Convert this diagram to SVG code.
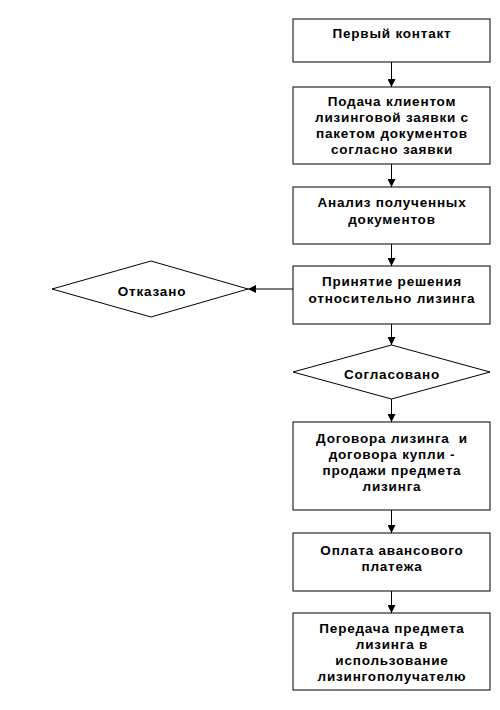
<svg xmlns="http://www.w3.org/2000/svg" width="500" height="710" viewBox="0 0 500 710">
<defs>
<style>
.box{fill:#fff;stroke:#000;stroke-width:1}
.t{font-family:"Liberation Sans",Arial,sans-serif;font-size:13.5px;font-weight:bold;fill:#000;text-anchor:middle;letter-spacing:0.8px}
.c{stroke:#000;stroke-width:1;fill:none;marker-end:url(#ah)}
</style>
<marker id="ah" viewBox="0 0 10 10" refX="10" refY="5" markerWidth="8" markerHeight="8" markerUnits="userSpaceOnUse" orient="auto">
<path d="M0,0 L10,5 L0,10 z" fill="#000"/>
</marker>
</defs>
<rect width="500" height="710" fill="#fff"/>
<g id="connectors">
<line class="c" x1="391.5" y1="62" x2="391.5" y2="87"/>
<line class="c" x1="391.5" y1="164" x2="391.5" y2="187"/>
<line class="c" x1="391.5" y1="244" x2="391.5" y2="266"/>
<line class="c" x1="293" y1="289" x2="248" y2="289"/>
<line class="c" x1="391.5" y1="324" x2="391.5" y2="345"/>
<line class="c" x1="391.5" y1="399" x2="391.5" y2="422"/>
<line class="c" x1="391.5" y1="510" x2="391.5" y2="533"/>
<line class="c" x1="391.5" y1="591" x2="391.5" y2="613"/>
</g>
<g id="n1">
<rect class="box" x="293" y="19" width="197" height="43"/>
<text class="t" x="392" y="38">Первый контакт</text>
</g>
<g id="n2">
<rect class="box" x="293" y="87" width="197" height="77"/>
<text class="t" x="392" y="106">Подача клиентом</text>
<text class="t" x="392" y="122">лизинговой заявки с</text>
<text class="t" x="392" y="138">пакетом документов</text>
<text class="t" x="392" y="154">согласно заявки</text>
</g>
<g id="n3">
<rect class="box" x="293" y="187" width="197" height="57"/>
<text class="t" x="392" y="207">Анализ полученных</text>
<text class="t" x="392" y="224">документов</text>
</g>
<g id="n4">
<rect class="box" x="293" y="266" width="197" height="58"/>
<text class="t" x="392" y="286">Принятие решения</text>
<text class="t" x="392" y="303">относительно лизинга</text>
</g>
<g id="n5">
<polygon class="box" points="52,289 151,261 248,289 151,317"/>
<text class="t" x="152" y="296">Отказано</text>
</g>
<g id="n6">
<polygon class="box" points="293,372 391.5,345 490,372 391.5,399"/>
<text class="t" x="392" y="379">Согласовано</text>
</g>
<g id="n7">
<rect class="box" x="293" y="422" width="197" height="88"/>
<text class="t" x="392" y="443" xml:space="preserve">Договора лизинга  и</text>
<text class="t" x="392" y="459">договора купли -</text>
<text class="t" x="392" y="475">продажи предмета</text>
<text class="t" x="392" y="491">лизинга</text>
</g>
<g id="n8">
<rect class="box" x="293" y="533" width="197" height="58"/>
<text class="t" x="392" y="555">Оплата авансового</text>
<text class="t" x="392" y="571">платежа</text>
</g>
<g id="n9">
<rect class="box" x="293" y="613" width="197" height="77"/>
<text class="t" x="392" y="633">Передача предмета</text>
<text class="t" x="392" y="649">лизинга в</text>
<text class="t" x="392" y="665">использование</text>
<text class="t" x="392" y="681">лизингополучателю</text>
</g>
</svg>
